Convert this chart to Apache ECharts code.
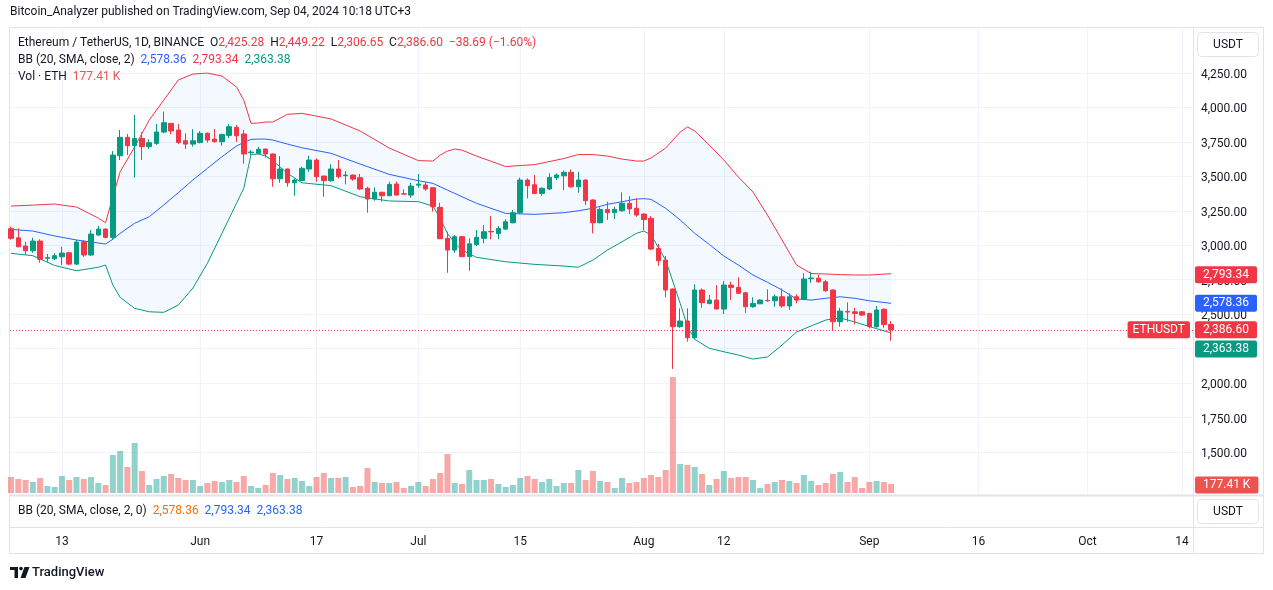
<!DOCTYPE html>
<html><head><meta charset="utf-8">
<script src="https://cdn.jsdelivr.net/npm/echarts@6/dist/echarts.min.js"></script>
<style>html,body{margin:0;padding:0;background:#fff;}#c{width:1273px;height:590px;}</style>
</head><body><div id="c"></div>
<script>
// ---- Data (day index 0 = 2024-05-06, daily candles to 2024-09-04) ----
const startDate = '2024-05-06';
const opens = [3120,3054,2994,2960,3030,2905,2902,2916,2945,2863,
3025,2929,3074,3117,3057,3649,3783,3722,3775,3715,
3739,3821,3884,3836,3758,3734,3746,3812,3770,3751,
3797,3855,3807,3672,3667,3698,3662,3482,3553,3453,
3470,3553,3618,3502,3468,3553,3505,3509,3490,3413,
3335,3384,3359,3444,3373,3364,3436,3437,3417,3275,
3050,2965,3062,2917,3005,3050,3100,3085,3117,3163,
3236,3473,3439,3376,3408,3490,3504,3529,3424,3473,
3328,3163,3260,3236,3250,3304,3268,3226,3195,2977,
2892,2682,2409,2450,2329,2675,2578,2602,2537,2711,
2694,2655,2554,2575,2600,2597,2626,2559,2626,2609,
2757,2760,2735,2675,2445,2520,2517,2517,2505,2409,
2535,2425.28];
const highs = [3135,3122,3025,3054,3043,2936,2941,2989,2953,3038,
3038,3110,3139,3122,3683,3836,3807,3945,3819,3768,
3879,3969,3888,3879,3812,3843,3828,3819,3843,3808,
3879,3872,3836,3690,3715,3700,3667,3647,3556,3485,
3570,3649,3630,3505,3587,3618,3538,3512,3517,3424,
3420,3388,3461,3461,3405,3453,3517,3456,3420,3308,
3098,3074,3066,3050,3110,3146,3212,3139,3188,3255,
3490,3485,3509,3420,3521,3521,3541,3550,3533,3478,
3333,3275,3316,3279,3384,3357,3340,3231,3212,3009,
2922,2687,2542,2542,2716,2687,2639,2711,2740,2735,
2767,2662,2622,2607,2680,2644,2687,2651,2644,2796,
2808,2784,2747,2680,2546,2585,2546,2522,2510,2559,
2542,2449.22];
const lows = [3040,2985,2929,2945,2873,2880,2892,2856,2856,2856,
2916,2924,3070,3050,3043,3618,3654,3490,3618,3698,
3727,3812,3805,3734,3698,3715,3739,3744,3746,3722,
3776,3749,3591,3655,3662,3636,3424,3453,3424,3359,
3466,3533,3461,3352,3461,3485,3442,3468,3400,3236,
3323,3316,3357,3359,3369,3344,3417,3395,3243,3045,
2800,2945,2916,2815,2994,3014,3043,3043,3110,3159,
3226,3340,3369,3359,3400,3473,3400,3417,3381,3292,
3086,3159,3183,3190,3243,3226,3207,3110,2965,2851,
2622,2102,2400,2300,2317,2546,2571,2535,2501,2602,
2646,2510,2546,2573,2590,2553,2546,2530,2578,2607,
2728,2728,2662,2385,2409,2445,2426,2488,2397,2401,
2401,2306.65];
const closes = [3050,2989,2960,3030,2898,2910,2924,2943,2863,3023,
2929,3081,3117,3057,3654,3783,3722,3775,3715,3744,
3821,3889,3829,3746,3734,3758,3812,3763,3751,3804,
3860,3794,3662,3676,3696,3662,3482,3553,3453,3473,
3558,3618,3497,3468,3553,3497,3509,3480,3408,3335,
3384,3359,3441,3364,3371,3429,3443,3408,3279,3047,
2965,3062,2917,3010,3057,3098,3097,3122,3170,3236,
3473,3432,3376,3413,3492,3509,3529,3424,3473,3323,
3163,3260,3236,3260,3304,3263,3219,3187,2972,2887,
2675,2409,2450,2329,2675,2583,2602,2537,2711,2694,
2651,2554,2578,2602,2597,2626,2559,2626,2602,2755,
2762,2735,2670,2445,2522,2515,2505,2493,2409,2530,
2425.29,2386.60];
// volume, thousands of ETH
const volumesK = [315,276,256,217,296,138,118,335,256,315,
276,315,197,158,749,827,512,985,433,158,
276,335,374,296,256,256,138,197,236,217,
256,217,335,138,99,158,394,355,276,296,
236,138,315,394,296,296,315,118,138,493,
217,197,197,217,99,138,217,138,276,394,
768,197,177,453,256,256,276,177,118,158,
296,335,276,217,276,138,197,197,453,256,
433,236,217,99,296,197,217,296,355,315,
453,2285,571,552,512,374,158,276,433,296,
315,315,256,99,177,217,256,236,197,355,
236,158,197,374,414,217,315,99,217,236,
217,177.41];
// Bollinger Bands (20, 2) at these day indices
const bbDays = [0,3,6,9,12,13,14,15,17,19,21,23,25,27,29,31,32,33,34,35,36,38,40,44,48,52,56,58,59,60,61,62,64,68,72,76,78,80,82,84,86,87,88,90,92,93,94,96,98,100,102,104,106,108,110,112,114,116,118,121];
const bbUpper = [3284,3291,3299,3277,3197,3163,3352,3533,3714,3908,4053,4199,4242,4249,4228,4148,4053,3884,3887,3894,3894,3950,3957,3916,3829,3705,3614,3611,3654,3683,3698,3690,3647,3571,3585,3629,3658,3658,3647,3625,3611,3611,3633,3705,3821,3858,3829,3727,3618,3495,3386,3219,3038,2856,2795,2791,2787,2784,2784,2793.34];
const bbMiddle = [3115,3103,3067,3038,3016,3009,3043,3086,3159,3207,3292,3381,3473,3558,3642,3720,3746,3768,3770,3770,3763,3734,3707,3667,3589,3514,3468,3449,3424,3400,3376,3352,3304,3231,3224,3236,3250,3268,3297,3316,3335,3338,3333,3268,3183,3135,3086,3006,2922,2856,2784,2731,2675,2610,2602,2615,2626,2615,2597,2578.36];
const bbLower = [2941,2924,2853,2815,2840,2856,2711,2622,2542,2517,2513,2566,2689,2869,3086,3304,3413,3659,3662,3647,3613,3522,3453,3432,3352,3321,3316,3284,3195,3086,3014,2965,2912,2880,2861,2849,2840,2892,2965,3025,3086,3103,3074,2892,2578,2408,2317,2252,2227,2203,2174,2189,2276,2370,2414,2457,2472,2443,2410,2363.38];
// axis ticks
const priceTicks = [1500,1750,2000,2250,2500,2750,3000,3250,3500,3750,4000,4250];
const timeTickDays = [7,26,42,56,70,87,98,118,133,148,161];
const timeTickLabels = ['13','Jun','17','Jul','15','Aug','12','Sep','16','Oct','14'];

// ---- Chart ----
const FONT = 'Roboto, "Noto Sans", sans-serif';
const UP = '#089981', DOWN = '#F23645', BLUE = '#2962FF', TXT = '#131722';
const CLEAR = 'rgba(0,0,0,0)';
const fmt = v => v.toLocaleString('en-US', {minimumFractionDigits: 2, maximumFractionDigits: 2});
const last = closes.length - 1;
const chg = closes[last] - closes[last - 1];
const pct = chg / closes[last - 1] * 100;
const sgn = v => (v < 0 ? '\u2212' : '+') + Math.abs(v).toFixed(2);
const bL = bbDays.length - 1;

const candleData = opens.map((o, i) => [i, o, closes[i], lows[i], highs[i]]);
const volData = volumesK.map((v, i) => ({value: [i, v], itemStyle: {color: closes[i] >= opens[i] ? 'rgba(38,166,154,0.5)' : 'rgba(239,83,80,0.5)'}}));
const pair = arr => bbDays.map((d, k) => [d, arr[k]]);

const richBase = {
  t: {color: TXT, fontSize: 12, fontFamily: FONT},
  r: {color: DOWN, fontSize: 12, fontFamily: FONT},
  b: {color: BLUE, fontSize: 12, fontFamily: FONT},
  g: {color: UP, fontSize: 12, fontFamily: FONT},
  v: {color: '#ef5350', fontSize: 12, fontFamily: FONT},
  o: {color: '#FF6D00', fontSize: 12, fontFamily: FONT}
};
const mkTitle = (text, left, top) => ({text, left, top, padding: 0, textStyle: {rich: richBase, fontSize: 12, fontWeight: 'normal'}});

const boxLabel = (bg, extra) => Object.assign({
  show: true, position: 'end', distance: 2, color: '#fff', backgroundColor: bg,
  fontSize: 12, fontFamily: FONT, lineHeight: 13, padding: [2, 8, 2, 8], borderRadius: 2
}, extra || {});
const hidden = {color: CLEAR, width: 0, type: 'solid'};

const chart = echarts.init(document.getElementById('c'), null, {renderer: 'canvas'});
chart.setOption({
  animation: false,
  backgroundColor: '#fff',
  textStyle: {fontFamily: FONT},
  title: [
    {text: 'Bitcoin_Analyzer published on TradingView.com, Sep 04, 2024 10:18 UTC+3', left: 10, top: 6, padding: 0,
     textStyle: {fontSize: 12, fontWeight: 'normal', color: TXT, fontFamily: FONT}},
    mkTitle(`{t|Ethereum / TetherUS, 1D, BINANCE}  {t|O}{r|${fmt(opens[last])}}  {t|H}{r|${fmt(highs[last])}}  {t|L}{r|${fmt(lows[last])}}  {t|C}{r|${fmt(closes[last])}}  {r|${sgn(chg)} (${sgn(pct)}%)}`, 18, 37),
    mkTitle(`{t|BB (20, SMA, close, 2)}  {b|${fmt(bbMiddle[bL])}}  {r|${fmt(bbUpper[bL])}}  {g|${fmt(bbLower[bL])}}`, 18, 54),
    mkTitle(`{t|Vol \u00b7 ETH}  {v|${fmt(volumesK[last])} K}`, 18, 71),
    mkTitle(`{t|BB (20, SMA, close, 2, 0)}  {o|${fmt(bbMiddle[bL])}}  {b|${fmt(bbUpper[bL])}}  {b|${fmt(bbLower[bL])}}`, 18, 505)
  ],
  grid: {left: 10, right: 80, top: 27, bottom: 97},
  xAxis: {
    type: 'value', min: -0.14, max: 162.5,
    axisLine: {show: false},
    axisTick: {show: false, customValues: timeTickDays},
    axisLabel: {customValues: timeTickDays, margin: 43, color: TXT, fontSize: 12, fontFamily: FONT,
      formatter: v => timeTickLabels[timeTickDays.indexOf(v)] || ''},
    splitLine: {show: true, lineStyle: {color: '#f0f3fa', width: 1}}
  },
  yAxis: [
    {type: 'value', position: 'right', min: 1202.2, max: 4583.4,
     axisLine: {show: false},
     axisTick: {show: false, customValues: priceTicks},
     axisLabel: {customValues: priceTicks, margin: 8, color: TXT, fontSize: 12, fontFamily: FONT,
       formatter: v => '{p|' + fmt(v) + '}',
       rich: {p: {color: TXT, fontSize: 12, fontFamily: FONT, padding: [4, 0, 0, 0]}}},
     splitLine: {show: true, lineStyle: {color: '#f0f3fa', width: 1}}},
    {type: 'value', min: 0, max: 9180, show: false, splitLine: {show: false}}
  ],
  series: [
    {type: 'bar', name: 'Vol', yAxisIndex: 1, data: volData, barWidth: 6, z: 1,
     markLine: {symbol: 'none', silent: true, animation: false,
       data: [{yAxis: volumesK[last], lineStyle: hidden, label: boxLabel('#ef5350', {formatter: fmt(volumesK[last]) + ' K', offset: [0, 1]})}]}},
    {type: 'custom', name: 'BBfill', z: 1, silent: true, data: [[bbDays[0], bbMiddle[0]]], encode: {x: 0, y: 1},
     renderItem: (params, api) => {
       const pts = [];
       bbDays.forEach((d, k) => pts.push(api.coord([d, bbUpper[k]])));
       for (let k = bL; k >= 0; k--) pts.push(api.coord([bbDays[k], bbLower[k]]));
       return {type: 'polygon', shape: {points: pts}, style: {fill: 'rgba(33,150,243,0.055)'}};
     }},
    {type: 'line', name: 'Upper', data: pair(bbUpper), showSymbol: false, z: 2, lineStyle: {color: DOWN, width: 1}},
    {type: 'line', name: 'Basis', data: pair(bbMiddle), showSymbol: false, z: 2, lineStyle: {color: BLUE, width: 1}},
    {type: 'line', name: 'Lower', data: pair(bbLower), showSymbol: false, z: 2, lineStyle: {color: UP, width: 1}},
    {type: 'candlestick', name: 'ETHUSDT', data: candleData, encode: {x: 0, y: [1, 2, 3, 4]}, barWidth: 5, z: 3,
     itemStyle: {color: UP, color0: DOWN, borderColor: UP, borderColor0: DOWN, borderWidth: 1},
     markLine: {symbol: 'none', silent: true, animation: false,
       data: [
         {yAxis: bbUpper[bL], lineStyle: hidden, label: boxLabel(DOWN, {formatter: fmt(bbUpper[bL]), offset: [0, 1]})},
         {yAxis: bbMiddle[bL], lineStyle: hidden, label: boxLabel(BLUE, {formatter: fmt(bbMiddle[bL])})},
         {yAxis: closes[last], lineStyle: {color: DOWN, type: [1, 2], width: 1}, label: boxLabel(DOWN, {formatter: fmt(closes[last])})},
         {yAxis: closes[last], lineStyle: hidden, label: boxLabel(DOWN, {formatter: 'ETHUSDT', position: 'insideEnd', distance: 3, padding: [2, 5, 2, 5]})},
         {yAxis: bbLower[bL], lineStyle: hidden, label: boxLabel(UP, {formatter: fmt(bbLower[bL]), offset: [0, 16]})}
       ]}}
  ],
  graphic: [
    {type: 'rect', shape: {x: 9.5, y: 27.5, width: 1254, height: 526}, style: {fill: 'none', stroke: '#e0e3eb', lineWidth: 1}, silent: true, z: 0},
    {type: 'line', shape: {x1: 1193.5, y1: 27, x2: 1193.5, y2: 554}, style: {stroke: '#e0e3eb', lineWidth: 1}, silent: true},
    {type: 'line', shape: {x1: 9, y1: 495.5, x2: 1264, y2: 495.5}, style: {stroke: '#e0e3eb', lineWidth: 2}, silent: true},
    {type: 'line', shape: {x1: 9, y1: 527.5, x2: 1264, y2: 527.5}, style: {stroke: '#e0e3eb', lineWidth: 1}, silent: true},
    {type: 'rect', shape: {x: 1197.5, y: 32.5, width: 61, height: 24, r: 4}, style: {fill: '#fff', stroke: '#e0e3eb', lineWidth: 1}, silent: true},
    {type: 'text', x: 1228, y: 44.5, style: {text: 'USDT', fill: TXT, fontSize: 12, fontFamily: FONT, align: 'center', verticalAlign: 'middle'}, silent: true},
    {type: 'rect', shape: {x: 1197.5, y: 499.5, width: 61, height: 24, r: 4}, style: {fill: '#fff', stroke: '#e0e3eb', lineWidth: 1}, silent: true},
    {type: 'text', x: 1228, y: 511.5, style: {text: 'USDT', fill: TXT, fontSize: 12, fontFamily: FONT, align: 'center', verticalAlign: 'middle'}, silent: true},
    {type: 'polygon', shape: {points: [[10, 567], [18, 567], [18, 578], [14.5, 578], [14.5, 570], [10, 570]]}, style: {fill: TXT}, silent: true},
    {type: 'circle', shape: {cx: 21, cy: 568.6, r: 1.8}, style: {fill: TXT}, silent: true},
    {type: 'polygon', shape: {points: [[24.5, 567], [29.5, 567], [25.5, 578], [20.5, 578]]}, style: {fill: TXT}, silent: true},
    {type: 'text', x: 32, y: 572.5, style: {text: 'TradingView', fill: TXT, fontSize: 13, fontWeight: 500, fontFamily: FONT, verticalAlign: 'middle'}, silent: true}
  ]
});
</script>
</body></html>
